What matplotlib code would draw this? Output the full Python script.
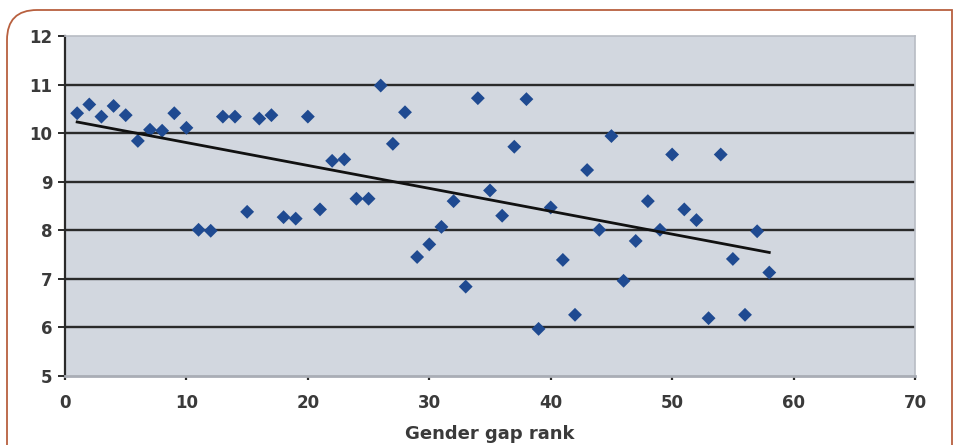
import numpy as np
import matplotlib.pyplot as plt
from matplotlib.path import Path
from matplotlib.patches import PathPatch

# rang dans l'indice d'écart entre les sexes (1..58) et valeur mesurée
rank = list(range(1, 59))
value = [10.41, 10.59, 10.34, 10.56, 10.37, 9.84, 10.07, 10.05, 10.41, 10.11,
         8.01, 7.99, 10.34, 10.34, 8.38, 10.30, 10.37, 8.27, 8.24, 10.34,
         8.43, 9.43, 9.46, 8.65, 8.65, 10.98, 9.78, 10.43, 7.45, 7.71,
         8.07, 8.60, 6.84, 10.72, 8.82, 8.30, 9.72, 10.70, 5.97, 8.47,
         7.39, 6.26, 9.24, 8.01, 9.94, 6.96, 7.78, 8.60, 8.01, 9.56,
         8.43, 8.21, 6.19, 9.56, 7.41, 6.26, 7.98, 7.13]
xticks = [0, 10, 20, 30, 40, 50, 60, 70]
yticks = [5, 6, 7, 8, 9, 10, 11, 12]

plt.rcParams['font.family'] = ['DejaVu Sans']

W, H = 958, 445
fig = plt.figure(figsize=(W / 100, H / 100), dpi=100)

# cadre arrondi en haut à gauche
r = 30
verts = [(7, H + 5), (7, 10 + r), (7, 10), (7 + r, 10), (952, 10), (952, H + 5)]
codes = [Path.MOVETO, Path.LINETO, Path.CURVE3, Path.CURVE3, Path.LINETO, Path.LINETO]
verts = [(vx / W, 1 - vy / H) for vx, vy in verts]
frame = PathPatch(Path(verts, codes), facecolor='none', edgecolor='#b8603f',
                  lw=1.3, transform=fig.transFigure, clip_on=False)
fig.patches.append(frame)

ax = fig.add_axes([65 / W, 1 - 376 / H, 850 / W, 340 / H])
ax.set_facecolor('#d2d7df')

for yv in yticks[1:-1]:
    ax.axhline(yv, color='#2a2a2a', lw=1.7, zorder=1)

ax.scatter(rank, value, marker='D', s=50, color='#1f4a91', edgecolors='none', zorder=3)

# droite de tendance
a, b = np.polyfit(rank, value, 1)
xl = np.array([rank[0], rank[-1]])
ax.plot(xl, a * xl + b, color='#111111', lw=2, zorder=4)

ax.set_xlim(0, 70)
ax.set_ylim(5, 12)
ax.set_xticks(xticks)
ax.set_yticks(yticks)

for s in ['top', 'right']:
    ax.spines[s].set_color('#b8bcc4')
    ax.spines[s].set_linewidth(1.2)
ax.spines['bottom'].set_color('#a9adb5')
ax.spines['bottom'].set_linewidth(2)
ax.spines['left'].set_color('#2a2a2a')
ax.spines['left'].set_linewidth(1.6)

ax.tick_params(axis='y', length=5, width=1.4, color='#2a2a2a', pad=4,
               labelsize=12, labelcolor='#3a3a3a')
ax.tick_params(axis='x', length=3, width=1.6, color='#2a2a2a', pad=10,
               labelsize=12, labelcolor='#3a3a3a')
for t in ax.get_xticklabels() + ax.get_yticklabels():
    t.set_fontweight('bold')

ax.set_xlabel('Gender gap rank', fontsize=13, fontweight='bold',
              color='#3a3a3a', labelpad=9)

fig.savefig('out.png', dpi=100)
